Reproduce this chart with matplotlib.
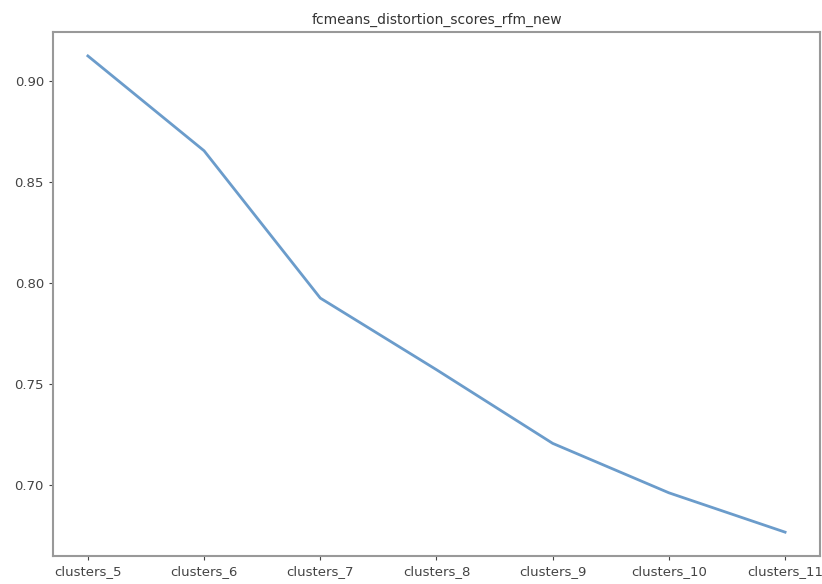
import matplotlib
matplotlib.use("Agg")
import matplotlib.pyplot as plt

# distortion scores of fuzzy c-means for each number of clusters
clusters = ["clusters_5", "clusters_6", "clusters_7", "clusters_8",
            "clusters_9", "clusters_10", "clusters_11"]
scores = [0.9125, 0.8655, 0.7925, 0.7570, 0.7205, 0.6960, 0.6765]

fig = plt.figure(figsize=(8.22, 5.84), dpi=100)
ax = fig.add_axes([0.0645, 0.048, 0.933, 0.897])

ax.plot(clusters, scores, color="#6b9ccb", linewidth=2)
ax.set_title("fcmeans_distortion_scores_rfm_new", fontsize=10, color="#333333")
ax.tick_params(labelsize=9.5, colors="#444444", length=3)
for s in ax.spines.values():
    s.set_color("#999999")
    s.set_linewidth(1.5)

fig.savefig("out.png", dpi=100)
